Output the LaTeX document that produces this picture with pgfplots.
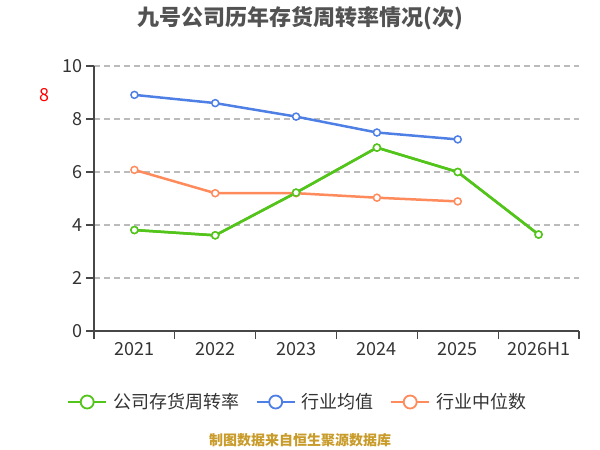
\documentclass[border=0pt]{standalone}
\usepackage{fontspec}
\setmainfont{Noto Sans CJK SC}
\usepackage{pgfplots}
\pgfplotsset{compat=1.18}
\definecolor{cgreen}{HTML}{52C41A}
\definecolor{cblue}{HTML}{4E7FE5}
\definecolor{corange}{HTML}{FF8B5C}
\definecolor{ctext}{HTML}{333333}
\definecolor{cgrid}{HTML}{BBBBBB}
\definecolor{csrc}{HTML}{C89B2A}
\begin{document}
\begin{tikzpicture}[x=1pt,y=1pt]
\path[use as bounding box] (0,0) rectangle (600,450);
\node[font=\fontsize{22}{26}\selectfont\bfseries, text=ctext!85] at (300,432) {九号公司历年存货周转率情况(次)};
\node[text=red, font=\fontsize{18}{18}\selectfont] at (44,355) {8};
\begin{axis}[at={(94pt,119pt)}, anchor=south west, width=485pt, height=265pt, scale only axis,
  xmin=-0.5, xmax=5.5, ymin=0, ymax=10, clip=false,
  xtick={0,...,5}, xticklabels={2021,2022,2023,2024,2025,2026H1},
  major x tick style={draw=none},
  minor xtick={-0.5,0.5,...,5.5},
  tick align=outside, major tick length=8pt, minor tick length=8pt,
  ytick={0,2,...,10}, ymajorgrids,
  grid style={cgrid, line width=1.2pt, dash pattern=on 6pt off 4pt},
  axis lines*=left,
  axis line style={ctext!90, line width=1.2pt},
  tick style={ctext!90, line width=1.2pt},
  ticklabel style={font=\fontsize{18}{20}\selectfont, text=ctext},
  /pgf/number format/assume math mode=true,
  legend style={at={(0.42,-0.268)}, anchor=center, draw=none, fill=none,
    legend columns=3, font=\fontsize{18}{20}\selectfont, text=ctext,
    /tikz/every odd column/.append style={column sep=4pt},
    /tikz/every even column/.append style={column sep=14pt}},
  legend cell align=left,
  legend image code/.code={\draw[#1, mark=none] (0pt,0pt) -- (38pt,0pt); \draw[#1, fill=white, mark=none, line width=1.8pt] (19pt,0pt) circle (6.5pt);},
]
\addplot[cgreen, line width=2.5pt, mark=*, mark size=3.5pt, mark options={fill=white, line width=1.5pt}] coordinates {(0,3.81)(1,3.61)(2,5.22)(3,6.92)(4,6.0)(5,3.64)};
\addlegendentry{公司存货周转率}
\addplot[cblue, line width=2.5pt, mark=*, mark size=3.5pt, mark options={fill=white, line width=1.5pt}] coordinates {(0,8.91)(1,8.60)(2,8.09)(3,7.49)(4,7.23)};
\addlegendentry{行业均值}
\addplot[corange, line width=2.5pt, mark=*, mark size=3.5pt, mark options={fill=white, line width=1.5pt}] coordinates {(0,6.08)(1,5.20)(2,5.20)(3,5.03)(4,4.89)};
\addlegendentry{行业中位数}
\addplot[cgreen, line width=2.5pt, mark=*, mark size=3.5pt, mark options={fill=white, line width=1.5pt}, forget plot] coordinates {(0,3.81)(1,3.61)(2,5.22)(3,6.92)(4,6.0)(5,3.64)};
\end{axis}
\node[font=\fontsize{14}{16}\selectfont\bfseries, text=csrc] at (300,10) {制图数据来自恒生聚源数据库};
\end{tikzpicture}
\end{document}
